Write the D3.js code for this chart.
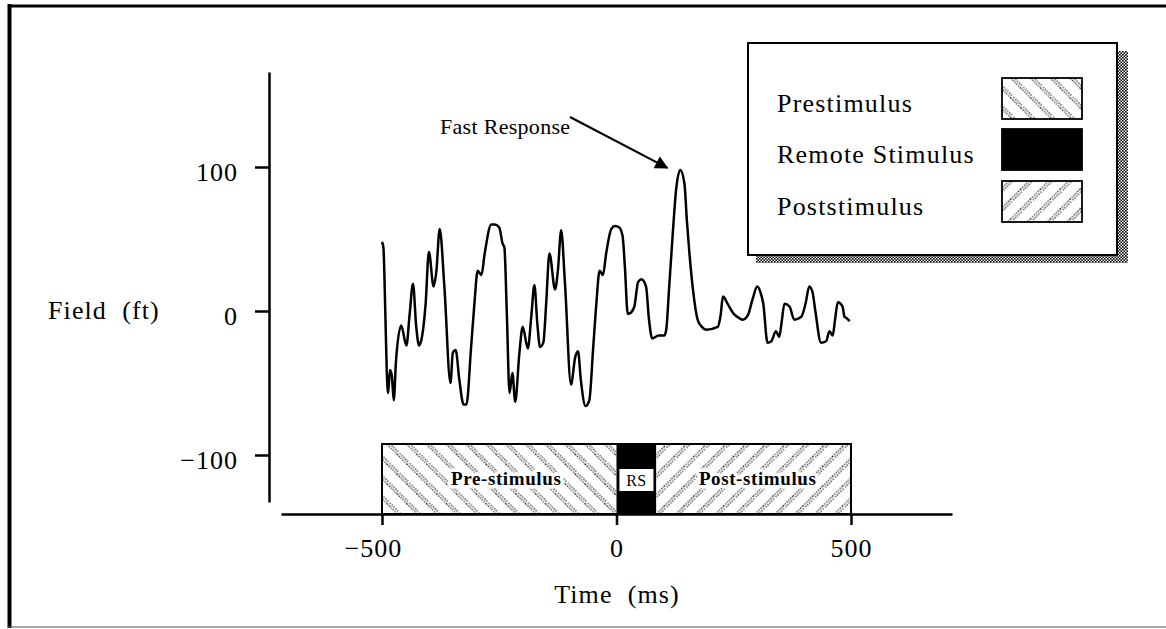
<!DOCTYPE html>
<html><head><meta charset="utf-8">
<script src="https://cdn.jsdelivr.net/npm/d3@7"></script>
<style>
html,body{margin:0;padding:0;background:#fff;}
svg{display:block;}
text{font-family:"Liberation Serif","Times New Roman",serif;fill:#000;}
</style></head><body>
<svg id="chart" width="1166" height="629"></svg>
<script>
// ---- data ----
const timeMs = [-500,-497,-493,-490,-487,-483,-479,-475,-470,-459,-448,-441,-434,-427,-421,-416,-407,-400,-390,-384,-377,-367,-354,-349,-343,-335,-326,-320,-310,-303,-296,-288,-281,-267,-260,-250,-243,-239,-234,-228,-222,-216,-207,-200,-189,-182,-175,-169,-163,-156,-150,-143,-131,-125,-118,-110,-97,-88,-82,-76,-66,-58,-50,-43,-36,-29,-22,-11,-3,6,13,18,24,31,38,46,53,63,69,76,90,102,106,112,120,127,136,145,150,155,163,173,182,191,216,222,227,237,250,262,269,280,290,300,307,313,322,330,340,347,352,358,369,379,394,403,411,418,424,436,447,454,461,466,472,482,486,491,497];
const fieldFt = [48,44,0,-40,-57,-41,-45,-62,-34,-10,-24,-2,19,-11,-24,-20,5,41,17,28,57,17,-50,-29,-27,-48,-65,-65,-25,5,28,25,40,60,60,58,47,44,0,-57,-43,-63,-29,-11,-26,-5,18,-8,-25,-22,5,40,15,28,56,20,-51,-32,-28,-48,-66,-62,-27,5,28,25,40,57,59,58,52,30,-2,-1,3,20,22,17,-5,-19,-17,-17,-13,15,54,84,98,88,63,42,15,-6,-11,-13,-11,-3,10,5,-2,-5,-6,-3,8,17,13,5,-22,-21,-14,-18,-8,5,3,-6,-4,5,17,13,0,-22,-21,-14,-17,-6,6,3,-4,-5,-7];
const xTicks = [-500, 0, 500];
const yTicks = [-100, 0, 100];
const phaseNames = ["Prestimulus", "Remote Stimulus", "Poststimulus"];
const phaseStart = [-500, 0, 85];
const phaseEnd = [0, 85, 500];
const phaseLabels = ["Pre-stimulus", "RS", "Post-stimulus"];
const annotationText = "Fast Response";
const annotationTime = 136;
const annotationValue = 98;

// ---- layout ----
const svg = d3.select("#chart");
const x = d3.scaleLinear().domain([-500, 500]).range([382, 851]);
const y = d3.scaleLinear().domain([-100, 100]).range([455, 167]);
const FONT = 26;

const defs = svg.append("defs");
function hatch(id, angle, size) {
  const p = defs.append("pattern").attr("id", id).attr("patternUnits", "userSpaceOnUse")
    .attr("width", size).attr("height", size).attr("patternTransform", `rotate(${angle})`);
  p.append("rect").attr("width", size).attr("height", size).attr("fill", "#fff");
  [1.5, 4].forEach((off, i) => {
    p.append("line").attr("x1", off).attr("x2", off).attr("y1", 0).attr("y2", size)
      .attr("stroke", "#222").attr("stroke-width", 1.3)
      .attr("stroke-dasharray", "1.3 1.3").attr("stroke-dashoffset", i * 1.3);
  });
}
hatch("preHatch", -45, 14);
hatch("postHatch", 45, 14);
const chk = defs.append("pattern").attr("id", "checker").attr("patternUnits", "userSpaceOnUse")
  .attr("width", 3).attr("height", 3);
chk.append("rect").attr("width", 3).attr("height", 3).attr("fill", "#fff");
chk.append("rect").attr("width", 1.6).attr("height", 1.6).attr("fill", "#000");
chk.append("rect").attr("x", 1.5).attr("y", 1.5).attr("width", 1.5).attr("height", 1.5).attr("fill", "#000");
const fills = ["url(#preHatch)", "#000", "url(#postHatch)"];

// frame
svg.append("line").attr("x1", 9.5).attr("x2", 9.5).attr("y1", 4).attr("y2", 628)
  .attr("stroke", "#000").attr("stroke-width", 4);
svg.append("line").attr("x1", 8).attr("x2", 1166).attr("y1", 6).attr("y2", 6)
  .attr("stroke", "#000").attr("stroke-width", 3);
svg.append("line").attr("x1", 8).attr("x2", 1166).attr("y1", 627).attr("y2", 627)
  .attr("stroke", "#555").attr("stroke-width", 1);

// phase bar
const barTop = 444, barBottom = 514;
const bar = svg.append("g");
bar.selectAll("rect.phase").data(phaseNames).join("rect").attr("class", "phase")
  .attr("x", (d, i) => x(phaseStart[i])).attr("width", (d, i) => x(phaseEnd[i]) - x(phaseStart[i]))
  .attr("y", barTop).attr("height", barBottom - barTop)
  .attr("fill", (d, i) => fills[i]);
bar.append("rect").attr("x", x(-500)).attr("y", barTop).attr("width", x(500) - x(-500))
  .attr("height", barBottom - barTop).attr("fill", "none").attr("stroke", "#000").attr("stroke-width", 2);
const rsMid = (x(phaseStart[1]) + x(phaseEnd[1])) / 2;
bar.append("rect").attr("x", rsMid - 17).attr("y", 469).attr("width", 34).attr("height", 22).attr("fill", "#fff");
bar.append("text").attr("x", rsMid).attr("y", 486).attr("text-anchor", "middle")
  .style("font-size", "16px").style("letter-spacing", "0.5px").text(phaseLabels[1]);
const labelShift = [7, 0, 4];
[0, 2].forEach(i => {
  bar.append("text").attr("x", (x(phaseStart[i]) + x(phaseEnd[i])) / 2 + labelShift[i]).attr("y", 485)
    .attr("text-anchor", "middle").style("font-size", "19px").style("font-weight", "bold")
    .style("letter-spacing", "0.6px")
    .attr("stroke", "#fff").attr("stroke-width", 7).attr("paint-order", "stroke").attr("stroke-linejoin", "round")
    .text(phaseLabels[i]);
});

// axes
const yAxisScale = y.copy().domain([y.invert(502), y.invert(72)]).range([502, 72]);
const xAxisScale = x.copy().domain([x.invert(281), x.invert(952)]).range([281, 952]);
const fmt = d => d < 0 ? "\u2212" + Math.abs(d) : String(d);
const gy = svg.append("g").attr("transform", "translate(269,0)")
  .call(d3.axisLeft(yAxisScale).tickValues(yTicks).tickSize(14).tickSizeOuter(0).tickPadding(17).tickFormat(fmt));
const gx = svg.append("g").attr("transform", "translate(0,514)")
  .call(d3.axisBottom(xAxisScale).tickValues(xTicks).tickSize(11).tickSizeOuter(0).tickFormat(fmt));
[gx, gy].forEach(g => {
  g.attr("font-family", null).attr("font-size", null);
  g.select(".domain").attr("stroke", "#000").attr("stroke-width", 2.5);
  g.selectAll(".tick line").attr("stroke", "#000").attr("stroke-width", 2.5);
  g.selectAll(".tick text").style("font-size", FONT + "px").style("letter-spacing", "1px");
});
gy.selectAll(".tick text").attr("dy", "0.5em");
gx.selectAll(".tick text").attr("y", 43).attr("dy", 0)
  .attr("dx", d => d < 0 ? "-0.35em" : 0);

// axis titles
svg.append("text").attr("x", 48).attr("y", 319).style("font-size", FONT + "px")
  .style("letter-spacing", "1.1px").style("white-space", "pre").text("Field  (ft)");
svg.append("text").attr("x", 617).attr("y", 603).attr("text-anchor", "middle").style("font-size", FONT + "px")
  .style("letter-spacing", "1.1px").style("white-space", "pre").text("Time  (ms)");

// waveform
const pts = timeMs.map((t, i) => [t, fieldFt[i]]);
svg.append("path").datum(pts)
  .attr("d", d3.line().x(d => x(d[0])).y(d => y(d[1])).curve(d3.curveMonotoneX))
  .attr("fill", "none").attr("stroke", "#000").attr("stroke-width", 2.5).attr("stroke-linejoin", "round");

// annotation
svg.append("text").attr("x", 440).attr("y", 134).style("font-size", "22px").style("letter-spacing", "0.3px")
  .text(annotationText);
const ax0 = 570, ay0 = 117;
const ax1 = x(annotationTime) - 13, ay1 = y(annotationValue) - 2;
defs.append("marker").attr("id", "arrow").attr("viewBox", "0 0 10 10").attr("refX", 9).attr("refY", 5)
  .attr("markerWidth", 7).attr("markerHeight", 6).attr("markerUnits", "strokeWidth").attr("orient", "auto")
  .append("path").attr("d", "M0,0L10,5L0,10Z").attr("fill", "#000");
svg.append("line").attr("x1", ax0).attr("y1", ay0).attr("x2", ax1).attr("y2", ay1)
  .attr("stroke", "#000").attr("stroke-width", 2.2).attr("marker-end", "url(#arrow)");

// legend
const lg = svg.append("g");
lg.append("rect").attr("x", 756).attr("y", 51).attr("width", 372).attr("height", 212).attr("fill", "url(#checker)");
lg.append("rect").attr("x", 748).attr("y", 43).attr("width", 369).attr("height", 212)
  .attr("fill", "#fff").attr("stroke", "#000").attr("stroke-width", 2);
const rowY = [112, 163, 215];
lg.selectAll("text.lab").data(phaseNames).join("text").attr("class", "lab")
  .attr("x", 777).attr("y", (d, i) => rowY[i]).style("font-size", FONT + "px").style("letter-spacing", "1.2px")
  .text(d => d);
lg.selectAll("rect.sw").data(phaseNames).join("rect").attr("class", "sw")
  .attr("x", 1002).attr("y", (d, i) => rowY[i] - 34).attr("width", 80).attr("height", 41)
  .attr("fill", (d, i) => fills[i]).attr("stroke", "#000").attr("stroke-width", 1.8);
</script>
</body></html>
